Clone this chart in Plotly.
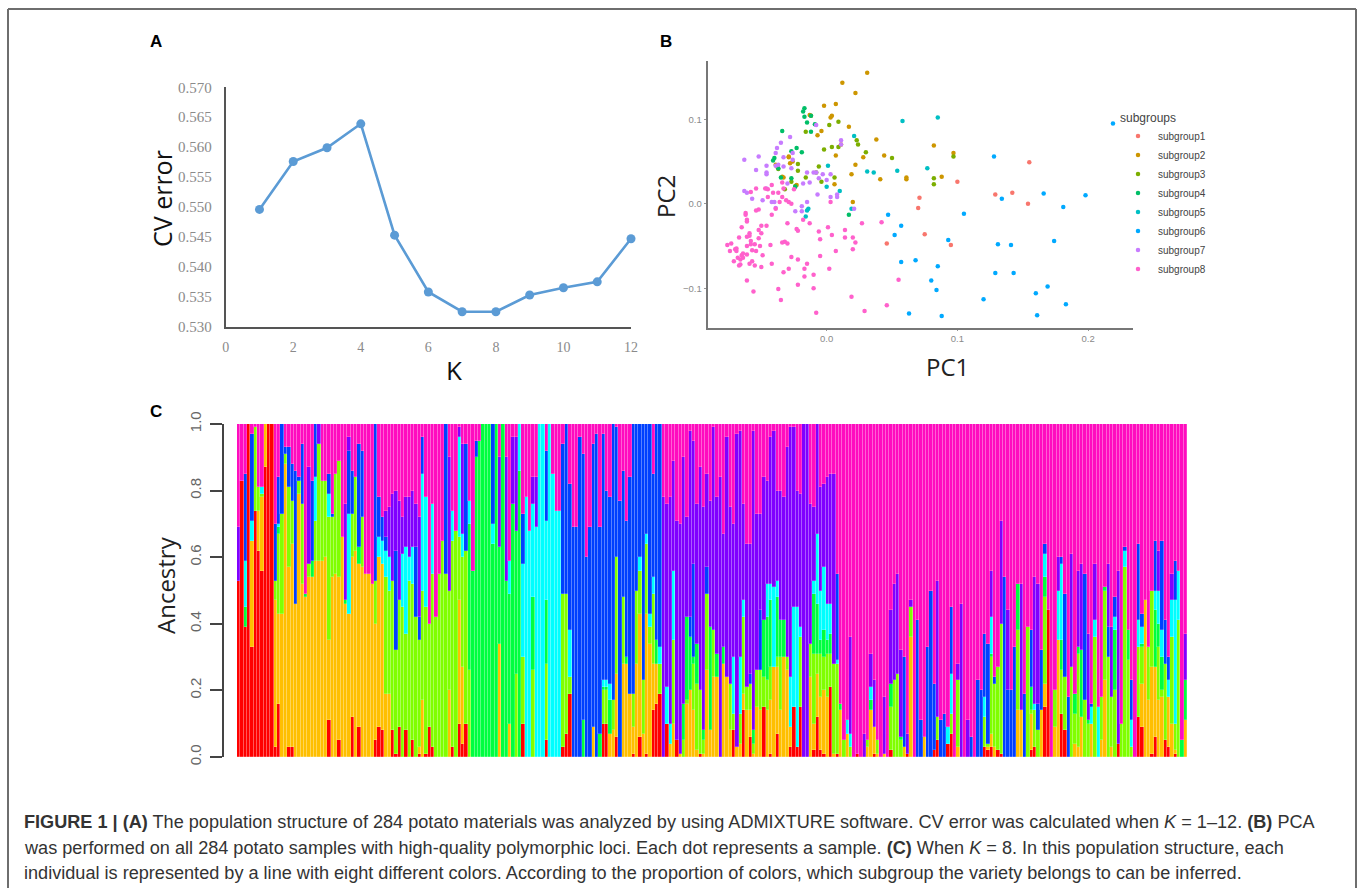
import numpy as np
import plotly.graph_objects as go

W, H = 1357, 888

# ---------- Panel A ----------
k_values = [1, 2, 3, 4, 5, 6, 7, 8, 9, 10, 11, 12]
cv_error = [.5496, .5576, .5599, .5639, .5453, .5358, .5325, .5325, .5353, .5365, .5375, .5447]

# ---------- Panel B (thousandths of PC units) ----------
sub1_x = [100, 71, 70, 75, 95, 46, 155, 129, 142, 154]
sub1_y = [26, 7, -5, -36, -49, -47, 49, 11, 13, 0]
sub2_x = [31, 12, 22, -2, 7, 3, 4, -13, -12, -4, -7, 17, 38, 11, 7, 28, 44, 22, 19, 41, 61, 61, 82, 97, 88, 6, 20, -29, -29, -26, -28, -39, -34, -33, -23, -38]
sub2_y = [155, 143, 131, 116, 118, 102, 104, 105, 104, 86, 81, 91, 76, 70, 57, 55, 57, 46, 35, 29, 29, 31, 69, 60, 32, 23, 2, 56, 55, 50, 48, 46, 32, 31, 22, 44]
sub3_x = [-2, 4, 9, 9, 2, 23, 24, 30, 50, 97, 82, 82, -6, -8, -4, 6, -16, -22, -24, -22, -32, -27, -16, -37]
sub3_y = [64, 67, 67, 97, 93, 75, 70, 61, 54, 56, 30, 23, 44, 37, 26, 31, 31, 47, 21, 39, 17, 26, 85, 41]
sub4_x = [-41, -40, -34, -27, -23, -19, -18, -17, -17, -15, -12, -12, -9, -37, -35, -27, -24, 17]
sub4_y = [51, 54, 86, 62, 66, 61, 109, 113, 103, 96, 85, 104, 94, 42, 31, 30, 20, -13]
sub5_x = [21, 1, 0, 10, 31, 36, 54, 58, 85, 77, -14, -15, -16, 19]
sub5_y = [80, 45, 20, 15, 38, 37, 39, 98, 102, 42, -6, -8, -15, -6]
sub6_x = [47, 105, 57, 52, 57, 68, 85, 93, 80, 84, 63, 88, 120, 219, 128, 134, 166, 198, 181, 131, 141, 174, 129, 143, 169, 160, 183, 161]
sub6_y = [-13, -12, -26, -37, -69, -67, -74, -43, -91, -102, -130, -133, -113, 95, 56, 6, 12, 10, -4, -48, -49, -44, -82, -82, -98, -106, -119, -132]
sub7_x = [-63, -52, -46, -46, -46, -54, -38, -35, -28, -39, -33, -26, -39, -37, -33, -27, -30, -18, -13, -15, -10, -8, -6, -3, 3, 0, -7, 8, 3, 8, 11, 11, -8, -63, -61, -57, -49, -46, -42, -40, -39, -19, -24, -19, -15, 21, -26]
sub7_y = [52, 56, 45, 37, 35, 40, 66, 72, 79, 60, 55, 60, 45, 46, 44, 42, 24, 24, 25, 37, 37, 37, 30, 35, 35, 28, 11, 11, 8, 8, 75, 70, 93, 15, 13, 6, 4, 18, 2, 2, -5, -3, -9, -9, 2, -6, 52]
sub8_x = [-76, -73, -74, -70, -69, -71, -69, -67, -65, -68, -66, -67, -65, -64, -66, -64, -61, -61, -61, -59, -59, -58, -58, -59, -57, -57, -55, -55, -54, -52, -50, -52, -51, -50, -46, -50, -49, -43, -42, -34, -32, -30, -33, -29, -27, -22, -23, -22, -15, -17, -17, -22, -37, -35, -56, -61, -10, -10, -8, -5, -6, -5, 1, 4, 7, 2, 14, 14, 20, 22, 20, 19, 29, 27, 42, 46, 55, -13, -18, -62, -61, -61, -62, -58, -54, -52, -54, -47, -45, -42, -41, -45, -42, -37, -36, -34, -33, -31, -29, -27, -34, -25, -30, -39, 3]
sub8_y = [-49, -47, -56, -54, -53, -68, -56, -40, -28, -64, -72, -73, -61, -59, -66, -64, -39, -50, -60, -35, -38, -44, -48, -71, -68, -55, -73, -48, -56, -31, -26, -41, -50, -35, -26, -75, -61, -49, -71, -46, -45, -47, -81, -77, -63, -66, -30, -32, -71, -77, -86, -96, -101, -114, -104, -91, -84, -100, -129, -62, -33, -42, -28, -37, -56, -77, -31, -40, -40, -46, -54, -110, -127, -23, -22, -120, -90, -23, -19, -13, -19, -21, -11, 14, 18, -7, -8, 18, 17, 22, 13, 8, -13, 13, 2, 8, 18, 4, 2, 0, 25, 17, -23, -6, 2]

# ---------- Panel C: upper boundary (percent) of each ancestry colour per sample ----------
red_top = [
 53,83,39,100,33,74,62,56,87,100, 100,3,16,0,0,3,3,0,0,0,
 0,0,0,0,0,0,0,11,0,0, 5,0,0,0,12,0,9,0,0,0,
 0,5,9,8,0,0,8,1,9,0, 8,0,5,0,1,0,1,9,3,0,
 0,0,0,0,3,0,10,4,10,0, 0,0,0,0,0,0,0,0,0,0,
 0,0,0,0,0,10,0,0,0,0, 0,0,5,0,0,0,0,3,7,19,
 0,0,0,0,0,0,0,0,0,10, 10,0,0,6,0,0,0,0,1,0,
 6,0,1,0,14,16,19,0,10,0, 0,5,0,0,0,0,0,0,1,0,
 0,0,0,0,0,0,0,0,8,0, 0,14,0,6,0,0,0,15,0,1,
 0,7,0,0,0,3,15,3,15,0, 0,0,2,12,2,1,0,21,0,1,
 0,0,0,0,0,1,0,0,0,0, 1,0,0,0,0,2,0,0,0,0,
 1,0,0,0,0,0,0,0,2,5, 0,0,4,7,0,0,0,0,0,0,
 0,0,0,3,2,3,0,2,1,0, 0,0,0,0,0,0,0,2,3,0,
 0,15,44,0,0,0,13,8,0,0, 0,0,0,0,0,0,0,0,0,0,
 0,0,0,4,0,0,0,0,0,12, 9,0,0,1,6,0,0,5,3,0,
 1,0,0,0]
orange_top = [
 53,83,39,100,65,74,74,78,100,100, 100,47,43,43,88,57,64,46,79,52,
 48,54,54,59,59,59,60,35,54,55, 54,66,46,43,60,62,58,57,55,55,
 52,40,60,58,19,19,8,1,9,0, 8,0,5,0,3,17,1,9,3,0,
 0,0,0,20,3,0,47,27,10,0, 0,0,0,0,0,0,0,0,34,0,
 0,10,0,0,0,10,0,0,0,0, 0,0,5,0,0,0,0,3,7,19,
 0,0,0,0,0,0,9,0,0,10, 10,7,8,25,0,28,28,19,9,28,
 43,7,43,34,28,28,19,0,10,4, 10,5,1,0,16,20,14,2,1,1,
 26,8,24,24,0,28,24,8,8,3, 4,19,14,14,1,15,14,15,14,17,
 27,27,14,30,26,9,15,3,15,0, 0,24,10,25,18,20,18,21,1,1,
 14,0,7,0,0,1,0,0,3,14, 9,1,0,1,0,2,0,0,0,3,
 1,36,0,0,0,6,0,0,2,5, 0,0,4,7,0,3,0,0,0,0,
 0,0,0,3,3,7,3,2,1,0, 0,0,0,14,14,0,0,13,3,0,
 14,22,44,0,9,35,13,8,0,0, 4,3,12,0,0,10,0,0,5,23,
 0,3,0,4,0,0,0,0,0,12, 22,47,17,27,27,17,18,5,18,10,
 2,0,0,11]
lime_top = [
 53,83,39,100,65,99,81,79,100,100, 100,53,67,73,91,81,77,46,83,76,
 48,58,54,71,94,83,83,72,72,85, 89,66,46,43,73,84,58,72,55,55,
 52,53,60,58,54,50,53,32,47,45, 37,53,52,42,35,50,45,40,55,42,
 55,65,55,50,65,68,66,60,62,26, 0,0,0,0,0,0,0,0,34,0,
 0,10,0,25,0,30,0,0,26,0, 0,0,28,0,0,0,0,49,49,24,
 0,0,0,0,0,0,9,0,0,20, 20,7,17,60,0,48,28,19,19,50,
 56,23,64,39,49,28,28,0,10,4, 35,5,1,5,17,20,28,22,20,5,
 49,8,38,24,0,28,24,22,13,3, 13,42,21,22,4,26,26,24,23,27,
 27,30,30,30,30,9,15,3,36,0, 0,34,31,31,31,30,31,31,28,28,
 14,5,7,3,0,1,0,0,5,14, 9,5,0,1,0,15,23,25,5,3,
 1,45,0,0,0,6,0,0,2,12, 0,0,4,13,0,23,0,0,0,0,
 0,0,0,12,4,30,22,27,40,0, 0,0,0,38,13,0,39,14,14,8,
 14,48,44,0,20,35,26,24,0,27, 13,31,12,17,10,10,36,0,18,50,
 30,18,20,4,10,57,29,3,0,33, 33,47,33,50,27,33,20,28,18,36,
 10,41,0,11]
green_top = [
 53,83,45,100,65,99,81,79,100,100, 100,53,69,73,91,81,77,46,83,76,
 49,58,59,71,94,83,83,72,72,85, 89,66,47,43,73,84,63,72,55,55,
 52,53,60,58,54,50,53,32,47,45, 37,53,52,42,35,50,45,40,55,42,
 55,65,55,50,65,68,66,60,62,70, 56,90,95,100,100,100,64,100,63,100,
 53,49,76,68,86,30,0,0,48,0, 0,0,47,0,0,0,0,49,49,24,
 0,0,0,11,0,0,9,0,7,21, 21,17,17,60,0,48,30,19,19,50,
 56,23,64,39,49,35,28,0,10,4, 35,5,1,16,42,36,30,34,20,8,
 49,39,38,31,0,33,24,22,13,3, 13,42,21,22,8,26,26,41,42,47,
 27,48,41,41,30,9,15,3,36,0, 0,34,49,46,35,38,35,37,28,28,
 16,5,7,3,0,1,0,0,5,17, 9,5,0,1,0,22,23,25,6,3,
 1,45,0,0,0,6,0,0,2,12, 0,0,4,13,0,23,0,0,0,0,
 0,0,0,12,4,31,22,27,40,0, 0,0,0,52,13,0,39,21,14,8,
 14,54,44,0,20,35,35,24,0,27, 19,33,32,17,11,10,36,0,18,51,
 30,18,38,4,10,57,38,3,0,33, 34,47,33,50,44,40,30,28,18,36,
 10,41,5,23]
cyan_top = [
 53,83,59,100,71,99,81,81,100,100, 100,53,70,73,91,81,77,46,83,76,
 49,58,59,84,94,83,83,79,72,85, 89,66,47,73,73,84,63,72,55,55,
 52,53,66,65,62,60,53,32,47,61, 63,60,63,42,35,85,78,40,76,42,
 55,65,55,50,74,68,96,67,62,77, 56,90,95,100,100,100,70,100,63,100,
 53,59,76,68,100,58,78,68,76,69, 100,100,71,100,85,74,74,49,49,38,
 0,0,0,11,0,0,9,0,7,23, 23,22,17,60,0,48,30,19,19,50,
 60,23,67,43,54,35,33,0,21,10, 56,5,1,16,42,36,30,34,20,8,
 49,39,38,31,0,33,24,22,30,3, 30,47,21,22,8,26,26,41,52,52,
 51,53,41,41,30,24,45,45,39,0, 0,34,53,67,50,57,46,46,28,29,
 16,5,11,7,0,1,0,0,5,21, 9,5,0,1,0,22,23,25,6,3,
 1,45,0,0,0,6,0,0,2,12, 0,0,9,25,0,23,0,0,0,0,
 0,0,0,18,4,42,22,27,40,0, 0,0,0,52,13,0,39,21,16,8,
 14,61,44,0,20,50,58,24,0,27, 19,33,32,17,11,15,41,15,18,51,
 30,18,42,4,10,62,38,11,0,41, 39,47,33,50,50,50,38,28,23,47,
 47,56,5,23]
blue_top = [
 53,83,85,100,97,99,81,81,100,100, 100,70,84,100,93,93,88,86,84,94,
 49,58,83,100,94,83,83,85,73,85, 89,66,47,92,86,84,94,92,55,55,
 52,100,78,72,66,60,53,62,47,61, 63,60,63,63,42,96,78,40,76,42,
 55,65,100,50,74,68,96,67,94,77, 56,95,95,100,100,100,100,100,63,100,
 53,59,76,68,100,73,78,68,76,69, 100,100,92,100,85,74,74,94,100,82,
 69,69,96,91,60,69,94,97,69,97, 80,78,100,99,77,86,71,84,100,100,
 100,100,100,100,85,100,100,0,21,10, 56,5,1,16,42,42,58,34,20,8,
 57,39,38,31,0,33,24,22,30,3, 30,47,21,25,8,26,44,41,52,52,
 51,53,41,41,30,24,45,45,39,0, 0,34,53,67,50,57,46,46,28,55,
 16,5,11,7,0,1,0,0,5,21, 9,5,0,1,0,22,23,25,6,30,
 1,45,0,41,11,6,33,50,22,12, 11,13,9,45,0,23,0,0,0,6,
 0,23,20,37,34,42,24,27,40,54, 20,20,33,52,13,19,39,38,16,16,
 32,64,44,0,20,50,60,49,18,27, 19,33,32,55,11,16,41,15,18,51,
 39,18,48,4,10,63,38,23,0,64, 43,47,33,50,65,50,65,41,30,47,
 59,56,5,23]
purple_top = [
 69,83,85,100,97,99,81,81,100,100, 100,70,84,100,93,93,88,86,84,94,
 49,87,83,100,100,83,83,85,73,85, 89,66,76,96,86,84,94,92,55,55,
 52,100,78,72,74,75,79,80,77,72, 78,78,80,76,72,96,78,40,76,42,
 55,65,100,90,74,68,99,94,94,77, 56,95,95,100,100,100,100,100,90,100,
 90,59,96,96,100,73,78,68,84,84, 100,100,92,100,85,74,74,94,100,82,
 69,69,96,91,60,69,94,97,69,97, 80,78,100,99,77,86,71,84,100,100,
 100,100,100,100,85,100,100,78,76,78, 89,71,70,90,72,98,95,76,87,75,
 85,77,99,78,84,67,96,75,70,97, 98,76,64,64,98,73,73,84,83,96,
 98,80,80,78,93,99,99,80,79,100, 100,76,75,100,81,82,84,85,85,55,
 16,5,11,36,0,1,0,7,5,31, 23,5,0,18,0,44,52,55,32,30,
 7,47,0,41,11,6,33,50,22,53, 11,13,9,45,0,28,46,0,11,6,
 0,23,20,37,34,56,24,27,71,54, 44,20,33,52,52,19,39,38,54,52,
 32,64,44,0,20,60,60,49,18,61, 19,56,58,55,37,16,58,15,18,51,
 58,39,48,56,10,63,38,23,0,64, 43,47,33,50,65,62,65,41,30,55,
 59,56,5,37]

ancestry_colors = ["#FF0000", "#FFBF00", "#80FF00", "#00FF40", "#00FFFF", "#0040FF", "#8000FF", "#FF0CBF"]
subgroup_colors = ["#F8766D", "#CD9600", "#7CAE00", "#00BE67", "#00BFC4", "#00A9FF", "#C77CFF", "#FF61CC"]

CAPTION = [
    "<b>FIGURE 1 | (A)</b> The population structure of 284 potato materials was analyzed by using ADMIXTURE software. CV error was calculated when <i>K</i> = 1–12. <b>(B)</b> PCA",
    "was performed on all 284 potato samples with high-quality polymorphic loci. Each dot represents a sample. <b>(C)</b> When <i>K</i> = 8. In this population structure, each",
    "individual is represented by a line with eight different colors. According to the proportion of colors, which subgroup the variety belongs to can be inferred.",
]


def dx(a, b):
    return [a / W, b / W]


def dy(top, bottom):
    return [1 - bottom / H, 1 - top / H]


fig = go.Figure()

# Panel A
fig.add_trace(go.Scatter(
    x=k_values, y=cv_error, mode="lines+markers", showlegend=False, cliponaxis=False,
    line=dict(color="#5B9BD5", width=2.6), marker=dict(color="#5B9BD5", size=9),
    xaxis="x", yaxis="y"))

# Panel B
sub_x = [sub1_x, sub2_x, sub3_x, sub4_x, sub5_x, sub6_x, sub7_x, sub8_x]
sub_y = [sub1_y, sub2_y, sub3_y, sub4_y, sub5_y, sub6_y, sub7_y, sub8_y]
for i in range(8):
    fig.add_trace(go.Scatter(
        x=np.array(sub_x[i]) / 1000, y=np.array(sub_y[i]) / 1000, mode="markers",
        name=f"subgroup{i + 1}", marker=dict(color=subgroup_colors[i], size=4.5),
        xaxis="x2", yaxis="y2"))

# Panel C
tops = np.array([red_top, orange_top, lime_top, green_top, cyan_top, blue_top, purple_top], dtype=float)
tops = np.maximum.accumulate(tops, axis=0)
tops = np.vstack([np.zeros((1, tops.shape[1])), tops, np.full((1, tops.shape[1]), 100.0)])
shares = np.diff(tops, axis=0) / 100
samples = np.arange(tops.shape[1])
for i in range(8):
    fig.add_trace(go.Bar(
        x=samples, y=shares[i],
        marker=dict(color=ancestry_colors[i], line=dict(width=0.35, color="rgba(255,255,255,0.55)")),
        showlegend=False, xaxis="x3", yaxis="y3"))

AX_A = dict(showgrid=False, zeroline=False, showline=True, linecolor="#555555", linewidth=2, automargin=False)

annotations = [
    dict(text="<b>A</b>", x=148 / W, y=1 - 42 / H, xanchor="left"),
    dict(text="<b>B</b>", x=658 / W, y=1 - 41 / H, xanchor="left"),
    dict(text="<b>C</b>", x=148 / W, y=1 - 411 / H, xanchor="left"),
]
for a in annotations:
    a.update(xref="paper", yref="paper", yanchor="middle", showarrow=False,
             font=dict(family="Liberation Sans", size=17, color="#000000"))
for text, y in zip(CAPTION, [822, 848, 873]):
    annotations.append(dict(
        text=text, x=22 / W, y=1 - y / H, xref="paper", yref="paper", xanchor="left", yanchor="middle",
        showarrow=False, align="left", font=dict(family="Liberation Sans", size=18.12, color="#333333")))
for text, x, y, size, angle, color in [
    ("CV error", 162, 199, 25, -90, "#111111"),
    ("K", 454, 370, 26, 0, "#111111"),
    ("PC1", 947, 367, 24, 0, "#222222"),
    ("PC2", 665, 197, 24, -90, "#222222"),
    ("Ancestry", 165, 585, 24, -90, "#222222"),
]:
    annotations.append(dict(
        text=text, x=x / W, y=1 - y / H, xref="paper", yref="paper", xanchor="center", yanchor="middle",
        showarrow=False, textangle=angle, font=dict(family="Open Sans", size=size, color=color)))

frame = dict(color="#6e6e6e", width=2)
shapes = [
    dict(type="line", xref="paper", yref="paper", x0=8 / W, x1=8 / W, y0=-0.02, y1=1 - 9 / H, line=frame),
    dict(type="line", xref="paper", yref="paper", x0=8 / W, x1=1356 / W, y0=1 - 9 / H, y1=1 - 9 / H, line=frame),
    dict(type="line", xref="paper", yref="paper", x0=1356 / W, x1=1356 / W, y0=-0.02, y1=1 - 9 / H, line=frame),
]

fig.update_layout(
    width=W, height=H, margin=dict(l=0, r=0, t=0, b=0, pad=0), autosize=False,
    paper_bgcolor="white", plot_bgcolor="white", barmode="stack", bargap=0,
    annotations=annotations, shapes=shapes,
    font=dict(family="Liberation Sans"),
    xaxis=dict(AX_A, domain=dx(225.7, 631), range=[0, 12], tickvals=[0, 2, 4, 6, 8, 10, 12], ticks="", anchor="y",
               ticklabelstandoff=6,
               tickfont=dict(family="Liberation Serif", size=14, color="#8a8a8a")),
    yaxis=dict(AX_A, domain=dy(87.3, 326.7), range=[0.53, 0.57], dtick=0.005, tickformat=".3f", ticks="", anchor="x",
               ticklabelstandoff=9,
               tickfont=dict(family="Liberation Serif", size=15, color="#8a8a8a")),
    xaxis2=dict(showgrid=False, zeroline=False, showline=True, linecolor="#777777", linewidth=2, automargin=False,
                domain=dx(707.7, 1132.7), range=[-0.091, 0.2341], tickvals=[0, 0.1, 0.2], tickformat=".1f", anchor="y2",
                ticks="outside", ticklen=1, tickcolor="#999999",
                tickfont=dict(family="Liberation Sans", size=9.5, color="#8a8a8a")),
    yaxis2=dict(showgrid=False, zeroline=False, showline=True, linecolor="#777777", linewidth=2, automargin=False,
                domain=dy(60.7, 327.7), range=[-0.1467, 0.1692], tickvals=[-0.1, 0, 0.1], tickformat=".1f", anchor="x2",
                ticks="outside", ticklen=2, tickcolor="#999999",
                tickfont=dict(family="Liberation Sans", size=9.5, color="#8a8a8a")),
    xaxis3=dict(showgrid=False, zeroline=False, showline=False, domain=dx(237, 1187), automargin=False, anchor="y3",
                range=[-0.5, 283.5], showticklabels=False, ticks=""),
    yaxis3=dict(showgrid=False, zeroline=False, showline=True, linecolor="#444444", linewidth=2, automargin=False,
                domain=dy(424, 757), range=[0, 1], tickvals=[0, 0.2, 0.4, 0.6, 0.8, 1.0], tickformat=".1f",
                ticks="outside", ticklen=12, tickwidth=2, tickcolor="#444444", tickangle=-90, ticklabelstandoff=3,
                anchor="free", position=222.7 / W,
                tickfont=dict(family="Liberation Sans", size=15, color="#666666")),
    legend=dict(x=1118 / W, y=1 - 106 / H, xanchor="left", yanchor="top", bgcolor="rgba(0,0,0,0)",
                traceorder="normal",
                title=dict(text="subgroups", font=dict(size=12, color="#444444")),
                font=dict(size=10, color="#444444"), itemsizing="trace", tracegroupgap=0),
)

fig.write_html("out.html", config={"displayModeBar": False},
               post_script="document.body.style.margin='0';document.body.style.overflow='hidden';")
